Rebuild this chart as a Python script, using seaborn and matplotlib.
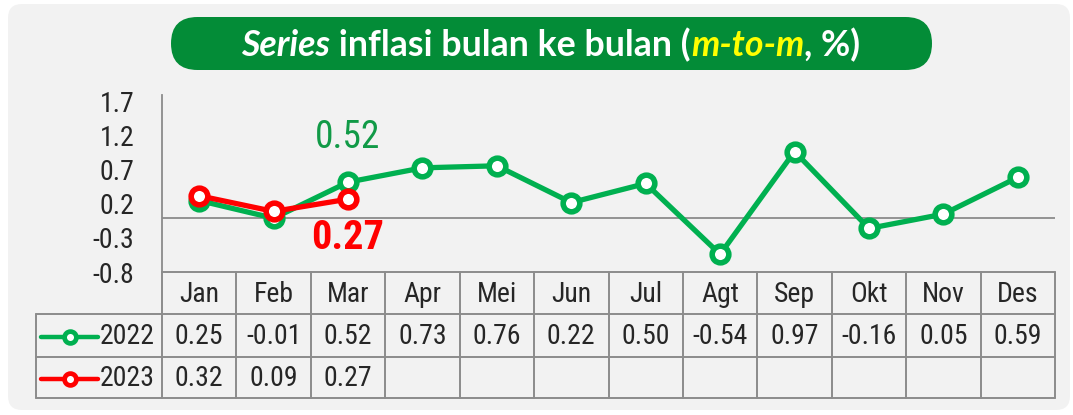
"""Inflasi bulanan (m-to-m) 2022 vs 2023, grafik garis + tabel data ala Excel."""

import matplotlib

matplotlib.use("Agg")

import matplotlib.pyplot as plt
import numpy as np
import pandas as pd
import seaborn as sns
from matplotlib import font_manager
from matplotlib.lines import Line2D
from matplotlib.patches import FancyBboxPatch

months = ["Jan", "Feb", "Mar", "Apr", "Mei", "Jun", "Jul", "Agt", "Sep", "Okt", "Nov", "Des"]
infl_2022 = [0.25, -0.01, 0.52, 0.73, 0.76, 0.22, 0.50, -0.54, 0.97, -0.16, 0.05, 0.59]
infl_2023 = [0.32, 0.09, 0.27]
years = ["2022", "2023"]
y_ticks = [-0.8, -0.3, 0.2, 0.7, 1.2, 1.7]

GREEN = "#00B050"
RED = "#FF0000"
PILL = "#038C37"
GRID = "#8c8c8c"
BG = "#f2f2f2"

W, H = 1073, 415

sns.set_style("white")

# the reference uses a narrow sans; take a condensed face if one is installed
fonts = font_manager.fontManager.ttflist
installed = {f.name for f in fonts}
condensed = {f.name for f in fonts if f.stretch in ("condensed", "semi-condensed", 500, 600, 700)
             or (isinstance(f.stretch, str) and "condensed" in f.stretch)}
NARROW, STRETCH, SCALE = "Liberation Sans", "normal", 0.9
for fam, st in [("Liberation Sans Narrow", "normal"), ("Arial Narrow", "normal"),
                ("Roboto Condensed", "normal"), ("DejaVu Sans", "condensed")]:
    if (st == "normal" and fam in installed) or (st != "normal" and fam in condensed):
        NARROW, STRETCH, SCALE = fam, st, 1.0
        break
TITLE_FONT = "Lato" if "Lato" in installed else "Open Sans"
plt.rcParams["font.family"] = [NARROW, "DejaVu Sans"]
plt.rcParams["font.stretch"] = STRETCH

df = pd.concat(
    [
        pd.DataFrame({"bulan": months, "pos": np.arange(len(months)), "nilai": infl_2022, "tahun": "2022"}),
        pd.DataFrame({"bulan": months[: len(infl_2023)], "pos": np.arange(len(infl_2023)),
                      "nilai": infl_2023, "tahun": "2023"}),
    ],
    ignore_index=True,
)
colors = {"2022": GREEN, "2023": RED}

fig = plt.figure(figsize=(W / 100, H / 100), dpi=100)
fig.patch.set_facecolor("white")

# pixel-coordinate layer for background, title pill and data table
bg = fig.add_axes([0, 0, 1, 1], zorder=0)
bg.set_xlim(0, W)
bg.set_ylim(H, 0)
bg.axis("off")
bg.add_patch(FancyBboxPatch((8, 4), 1062, 406, boxstyle="round,pad=0,rounding_size=14",
                            facecolor=BG, edgecolor="none"))
bg.add_patch(FancyBboxPatch((171, 17), 761, 53, boxstyle="round,pad=0,rounding_size=26.5",
                            facecolor=PILL, edgecolor="none"))

# title built piece by piece (mixed italic / colour), sized to the pill text width
pieces = [
    ("Series", "italic", "white"),
    (" inflasi bulan ke bulan (", "normal", "white"),
    ("m-to-m", "italic", "#FFFF00"),
    (", %)", "normal", "white"),
]
renderer = fig.canvas.get_renderer()
texts = []
for s, style, col in pieces:
    t = bg.text(0, 45, s, fontsize=20, fontweight="bold", style=style, color=col,
                family=TITLE_FONT, stretch="normal", ha="left", va="center")
    texts.append(t)
total = sum(t.get_window_extent(renderer).width for t in texts)
for t in texts:
    t.set_fontsize(20 * 620 / total)
widths = [t.get_window_extent(renderer).width for t in texts]
x = 551 - sum(widths) / 2
for t, w in zip(texts, widths):
    t.set_x(x)
    x += w

# chart
left, right, top, bottom = 162, 1055, 95, 272
ax = fig.add_axes([left / W, (H - bottom) / H, (right - left) / W, (bottom - top) / H], zorder=2)
ax.patch.set_alpha(0)
for yr in years:
    sns.lineplot(data=df[df["tahun"] == yr], x="pos", y="nilai", ax=ax, color=colors[yr],
                 linewidth=3.8, marker="o", markersize=12, markerfacecolor="white",
                 markeredgecolor=colors[yr], markeredgewidth=4, sort=False, legend=False,
                 zorder=3 if yr == "2023" else 2)
ax.axhline(0, color=GRID, linewidth=1.3, zorder=1)
ax.set_xlim(-0.5, len(months) - 0.5)
ax.set_ylim(-0.8, 1.8)
ax.set_yticks(y_ticks)
ax.set_yticklabels([f"{v:.1f}" for v in y_ticks], fontsize=20 * SCALE)
ax.tick_params(axis="y", length=0, pad=20)
ax.set_xticks([])
ax.set_xlabel("")
ax.set_ylabel("")
for side in ["top", "right", "bottom"]:
    ax.spines[side].set_visible(False)
ax.spines["left"].set_color(GRID)
ax.spines["left"].set_linewidth(1.3)

i_mar = months.index("Mar")
ax.annotate(f"{infl_2022[i_mar]:.2f}", (i_mar, infl_2022[i_mar]), xytext=(0, 32),
            textcoords="offset points", ha="center", va="center", color="#119A47",
            fontsize=27 * SCALE)
ax.annotate(f"{infl_2023[i_mar]:.2f}", (i_mar, infl_2023[i_mar]), xytext=(0, -28),
            textcoords="offset points", ha="center", va="center", color=RED,
            fontsize=29 * SCALE, fontweight="bold")

# data table under the chart
col_w = (right - left) / len(months)
rows = [272, 314, 357, 398]
leg_left = 36
lw = 1.4
bg.plot([left, right], [rows[0], rows[0]], color=GRID, lw=lw)
for yv in rows[1:]:
    bg.plot([leg_left, right], [yv, yv], color=GRID, lw=lw)
bg.plot([leg_left, leg_left], [rows[1], rows[3]], color=GRID, lw=lw)
for i in range(len(months) + 1):
    bg.plot([left + i * col_w] * 2, [rows[0], rows[3]], color=GRID, lw=lw)

tfs = 20 * SCALE
for i, m in enumerate(months):
    cx = left + (i + 0.5) * col_w
    bg.text(cx, (rows[0] + rows[1]) / 2 + 1, m, ha="center", va="center", fontsize=tfs)
series = {"2022": infl_2022, "2023": infl_2023}
for r, yr in enumerate(years):
    cy = (rows[r + 1] + rows[r + 2]) / 2 + 1
    for i, v in enumerate(series[yr]):
        bg.text(left + (i + 0.5) * col_w, cy, f"{v:.2f}", ha="center", va="center", fontsize=tfs)
    bg.add_line(Line2D([41, 98], [cy, cy], color=colors[yr], lw=3.2, solid_capstyle="round"))
    bg.plot([69.5], [cy], marker="o", markersize=8.5, markerfacecolor="white",
            markeredgecolor=colors[yr], markeredgewidth=3.4, linestyle="none")
    bg.text(155, cy, yr, ha="right", va="center", fontsize=tfs)

fig.savefig("out.png", dpi=100, facecolor="white")
